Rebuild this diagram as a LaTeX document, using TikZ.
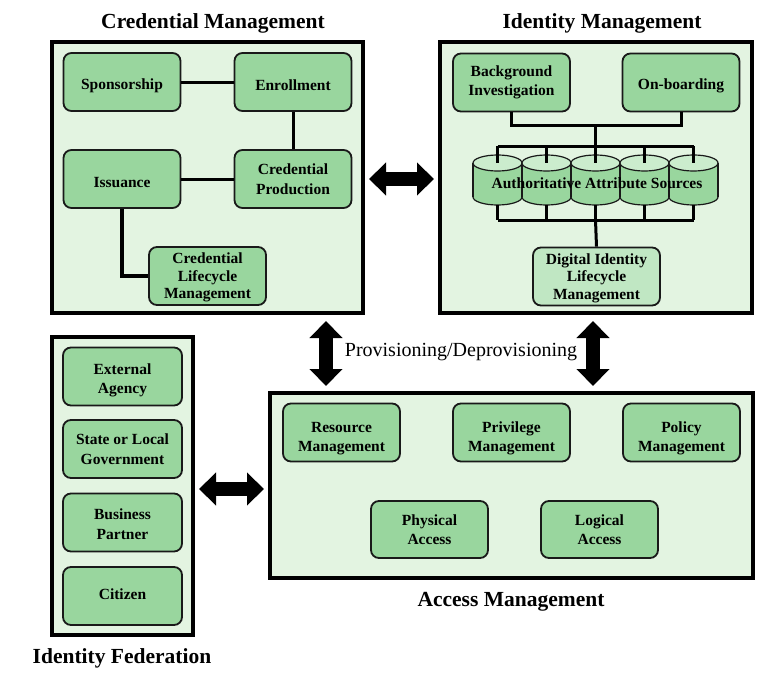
\documentclass[tikz,border=0pt]{standalone}
\usepackage{fontspec}
\setmainfont{Liberation Serif}
\usetikzlibrary{arrows.meta,calc}

\definecolor{paleGreen}{HTML}{E3F4E1}
\definecolor{boxGreen}{HTML}{99D69E}
\definecolor{softGreen}{HTML}{C0E7C3}
\definecolor{topGreen}{HTML}{CBECCD}

\begin{document}
\begin{tikzpicture}[x=1pt, y=-1pt,
  frame/.style={draw, line width=4pt, fill=paleGreen, inner sep=0pt},
  unit/.style={draw=black!90, line width=1.8pt, rounded corners=8pt, fill=boxGreen, align=center, inner sep=2pt,
    font=\bfseries\fontsize{15.5}{19.5}\selectfont, minimum width=117pt, minimum height=58pt},
  tall/.style={font=\bfseries\fontsize{15.5}{17.5}\selectfont},
  drop/.style={text height=#1},
  disc/.style={draw=black!90, line width=1.2pt},
  link/.style={line width=3pt},
  bigarrow/.style={line width=14pt, {Triangle[width=32pt,length=17pt]}-{Triangle[width=32pt,length=17pt]}},
  title/.style={font=\bfseries\fontsize{21.5}{24}\selectfont}]
\useasboundingbox (0,0) rectangle (757,693);

% Credential Management
\node[title] (cmtitle) at (213,23) {Credential Management};
\node[frame, minimum width=311pt, minimum height=271pt] (cm) at (207.5,177.5) {};
\node[unit, drop=17.5pt] (spon) at (122,82) {Sponsorship};
\node[unit, drop=17.5pt] (enrol) at (293,82) {Enrollment};
\node[unit, drop=17.5pt] (issu) at (122,179) {Issuance};
\node[unit] (prod) at (293,179) {Credential\\Production};
\node[unit, tall, drop=48.5pt] (clm) at (207.5,276) {Credential\\Lifecycle\\Management};
\draw[link] (spon) -- (enrol);
\draw[link] (enrol) -- (prod);
\draw[link] (issu) -- (prod);
\draw[line width=4pt] (issu.south) |- (clm.west);

% Identity Management
\node[title] (imtitle) at (602,23) {Identity Management};
\node[frame, minimum width=312pt, minimum height=271pt] (im) at (596,177.5) {};
\node[unit] (bg) at (511.5,82.5) {Background\\Investigation};
\node[unit, drop=17.5pt] (onb) at (681,82.5) {On-boarding};
% attribute source discs
\foreach \i/\x in {1/497.5,2/546.5,3/595.5,4/644.5,5/693.5} {
  \fill[boxGreen] (\x,197) ellipse [x radius=24.5pt, y radius=8pt];
  \draw[disc] (\x,197) ellipse [x radius=24.5pt, y radius=8pt];
  \fill[boxGreen] (\x-24.5,163) rectangle (\x+24.5,197);
  \draw[disc] (\x-24.5,163) -- (\x-24.5,197);
  \draw[disc] (\x+24.5,163) -- (\x+24.5,197);
  \draw[disc, fill=topGreen] (\x,163) ellipse [x radius=24.5pt, y radius=8pt];
  \coordinate (srctop\i) at (\x,163);
  \coordinate (srcbot\i) at (\x,205);
}
\coordinate (topbus) at (595.5,125);
\coordinate (upbus) at (595.5,146);
\coordinate (lowbus) at (595.5,220);
\draw[link] (bg.south) |- (topbus) -| (onb.south);
\draw[link] (topbus) -- (upbus);
\draw[link] (srctop1 |- upbus) -- (srctop5 |- upbus);
\foreach \i in {1,...,5}
  \draw[link] (srctop\i |- upbus) -- (srctop\i);
\foreach \i in {1,...,5}
  \draw[link] (srcbot\i) -- (srcbot\i |- lowbus);
\draw[link] (srcbot1 |- lowbus) -- (srcbot5 |- lowbus);
\node[font=\bfseries\fontsize{15.5}{18}\selectfont] (srctext) at (597,183) {Authoritative Attribute Sources};
\node[unit, tall, drop=48.5pt, fill=softGreen, minimum width=127pt] (dilm) at (596.5,276.5) {Digital Identity\\Lifecycle\\Management};
\draw[link] (lowbus) -- (dilm.north);

% Identity Federation
\node[frame, minimum width=141pt, minimum height=298pt] (fed) at (122.5,486) {};
\node[unit, drop=38pt, minimum width=119pt] (ext) at (122.5,376.5) {External\\Agency};
\node[unit, minimum width=119pt] (state) at (122.5,449) {State or Local\\Government};
\node[unit, drop=34pt, minimum width=119pt] (biz) at (122.5,522.5) {Business\\Partner};
\node[unit, drop=7pt, minimum width=119pt] (cit) at (122.5,596) {Citizen};
\node[title] (fedtitle) at (122,658) {Identity Federation};

% Access Management
\node[frame, minimum width=483pt, minimum height=185pt] (am) at (511.5,485.5) {};
\node[unit, drop=42pt] (res) at (341.5,432.5) {Resource\\Management};
\node[unit, drop=42pt] (priv) at (511.5,432.5) {Privilege\\Management};
\node[unit, drop=42pt] (pol) at (681.5,432.5) {Policy\\Management};
\node[unit, minimum height=57pt] (phys) at (429.5,529.5) {Physical\\Access};
\node[unit, minimum height=57pt] (logi) at (599.5,529.5) {Logical\\Access};
\node[title] (amtitle) at (511,602) {Access Management};

% arrows between the parts
\coordinate (provL) at (326,0);
\coordinate (provR) at (593,0);
\draw[bigarrow, shorten <=4pt, shorten >=4pt] ([yshift=-1.5pt]cm.east) -- ([yshift=-1.5pt]im.west);
\draw[bigarrow, shorten <=6pt, shorten >=5pt] (cm.south -| provL) -- (am.north -| provL);
\draw[bigarrow, shorten <=6pt, shorten >=5pt] (im.south -| provR) -- (am.north -| provR);
\draw[bigarrow, shorten <=4pt, shorten >=4pt] ([yshift=-3pt]fed.east) -- ([yshift=-3pt]fed.east -| am.west);
\node[font=\fontsize{20}{24}\selectfont] (prov) at (461,352) {Provisioning/Deprovisioning};
\end{tikzpicture}
\end{document}
